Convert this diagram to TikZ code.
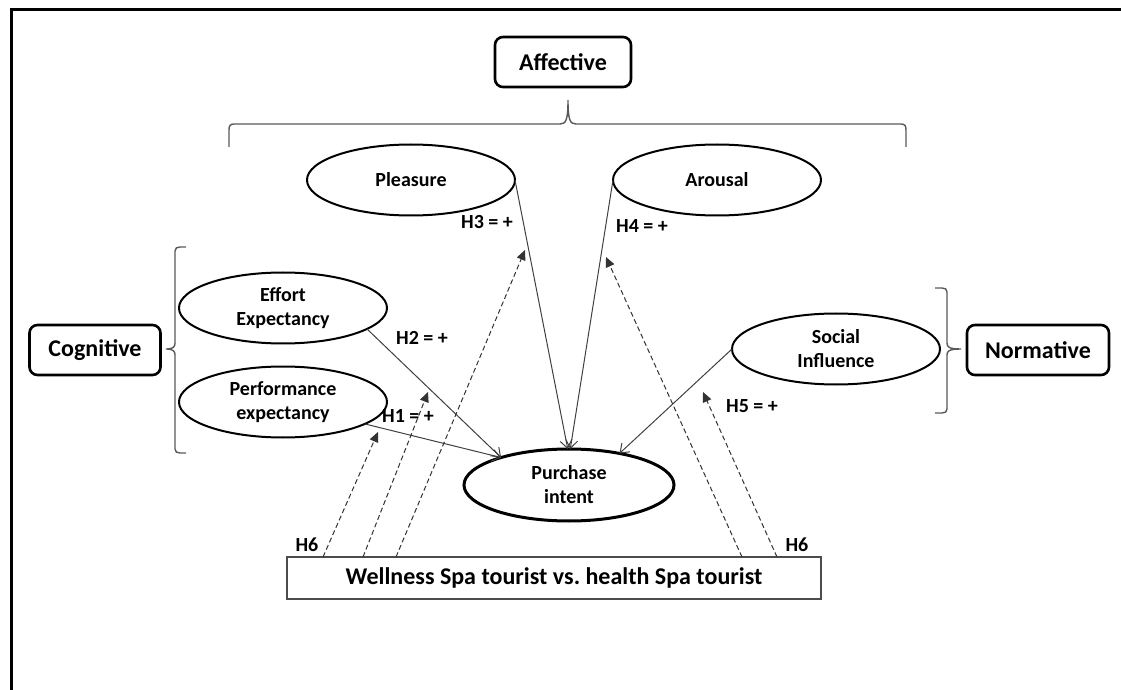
\documentclass[tikz,border=0pt]{standalone}
\usepackage{fontspec}
\setmainfont{Carlito}
\usetikzlibrary{arrows.meta,shapes.geometric}
\begin{document}
\begin{tikzpicture}[x={(0.5pt,0)},y={(0,-0.5pt)},
  font=\bfseries\fontsize{10}{12}\selectfont,
  factor/.style={draw, ellipse, line width=1pt, minimum width=104pt, minimum height=35.5pt, inner sep=0pt, outer sep=0pt, align=center},
  grpbox/.style={draw, rounded corners=4pt, line width=1.3pt, minimum height=25pt, inner sep=0pt, font=\bfseries\fontsize{12}{14}\selectfont},
  hyp/.style={inner sep=0pt},
  brc/.style={draw=black!65, line width=0.7pt},
  effect/.style={draw=black!75, line width=0.5pt, -{Straight Barb[length=4pt,width=6pt]}},
  moder/.style={draw=black!80, line width=0.5pt, dash pattern=on 2.5pt off 1.5pt, -{Triangle[length=5pt,width=4.5pt]}}]
\useasboundingbox (0,0) rectangle (1121,690);
\draw[line width=1.5pt] (11,690) -- (11,10) -- (1121,10);
\node[grpbox, minimum width=68pt] (aff) at (563,62) {Affective};
\node[grpbox, minimum width=65.5pt] (cog) at (95,350) {Cognitive};
\node[grpbox, minimum width=71pt] (nor) at (1038,350) {Normative};
\draw[brc] (229,147) -- (229,130) .. controls (229,126) and (230,124) .. (234,124) -- (560,124) .. controls (566,124) and (568,120) .. (568,100) .. controls (568,120) and (570,124) .. (576,124) -- (901,124) .. controls (905,124) and (906,126) .. (906,130) -- (906,147);
\draw[brc] (186,247) -- (180,247) .. controls (177,247) and (175,248) .. (175,251) -- (175,343) .. controls (175,347) and (173,349) .. (166,349) .. controls (173,349) and (175,351) .. (175,355) -- (175,449) .. controls (175,452) and (177,453) .. (180,453) -- (186,453);
\draw[brc] (935,288) -- (942,288) .. controls (945,288) and (947,289) .. (947,292) -- (947,343) .. controls (947,347) and (949,349) .. (961,349) .. controls (949,349) and (947,351) .. (947,355) -- (947,409) .. controls (947,412) and (945,413) .. (942,413) -- (935,413);
\node[factor] (ple) at (411,180) {Pleasure};
\node[factor] (aro) at (717,180) {Arousal};
\node[factor] (eff) at (283,308) {Effort\\Expectancy};
\node[factor] (perf) at (283,402) {Performance\\expectancy};
\node[factor] (soc) at (836,349) {Social\\Influence};
\node[factor, line width=1.5pt, minimum width=105pt, minimum height=36pt] (pi) at (569,485) {Purchase\\intent};
\node[draw=black!70, line width=0.6pt, minimum width=267pt, minimum height=21pt, inner sep=0pt, font=\bfseries\fontsize{12}{14}\selectfont] (grp) at (554,578) {Wellness Spa tourist vs.\ health Spa tourist};
\draw[effect] (ple.east) -- (pi.92);
\draw[effect] (aro.west) -- (pi.88);
\draw[effect] (eff.-14) -- (pi.158);
\draw[effect] (perf.-15) -- (pi.158);
\draw[effect] (soc.west) -- (pi.32);
\node[hyp] (h1) at (408,416) {H1 = +};
\node[hyp] (h2) at (422,338) {H2 = +};
\node[hyp] (h3) at (487,222) {H3 = +};
\node[hyp] (h4) at (642,226) {H4 = +};
\node[hyp] (h5) at (752,406) {H5 = +};
\node[hyp] (h6a) at (307,545) {H6};
\node[hyp] (h6b) at (797,545) {H6};
\coordinate (s1) at (323,557);
\coordinate (s2) at (363,557);
\coordinate (s3) at (396,557);
\coordinate (s4) at (742,557);
\coordinate (s5) at (777,557);
\coordinate (d1) at (378,432);
\coordinate (d2) at (428,392);
\coordinate (d3) at (525,250);
\coordinate (d4) at (606,257);
\coordinate (d5) at (703,392);
\draw[moder] (s1) -- (d1);
\draw[moder] (s2) -- (d2);
\draw[moder] (s3) -- (d3);
\draw[moder] (s4) -- (d4);
\draw[moder] (s5) -- (d5);
\end{tikzpicture}
\end{document}
